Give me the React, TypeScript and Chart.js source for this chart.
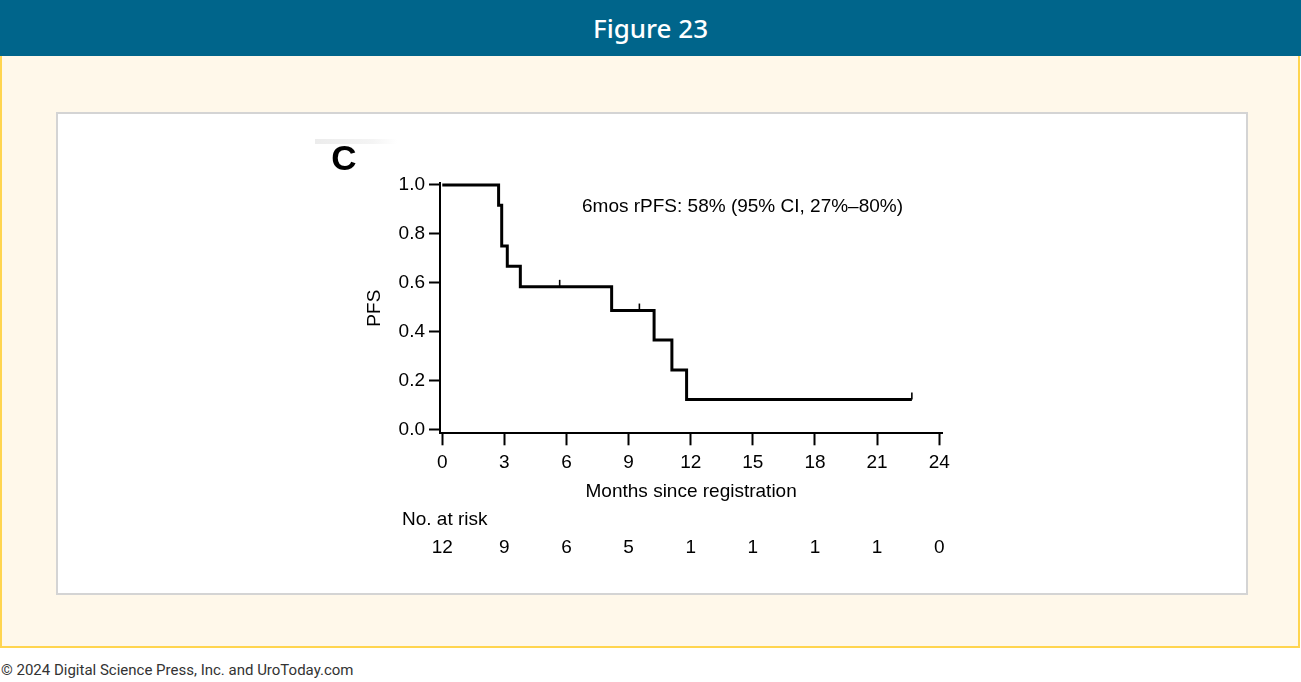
import { useEffect, useRef } from "react";
import { Chart, registerables } from "chart.js";

Chart.register(...registerables);

// Kaplan–Meier estimate of progression-free survival
const EVENT_MONTHS = [0, 2.72, 2.87, 3.14, 3.77, 8.18, 10.23, 11.09, 11.8, 22.68];
const PFS_VALUES = [1.0, 0.917, 0.75, 0.667, 0.583, 0.486, 0.365, 0.243, 0.122, 0.122];

// Censored observations
const CENSOR_MONTHS = [5.67, 9.52, 22.68];
const CENSOR_PFS = [0.583, 0.486, 0.122];

// Axis ticks and the number-at-risk table
const MONTH_TICKS = [0, 3, 6, 9, 12, 15, 18, 21, 24];
const PFS_TICKS = [0, 0.2, 0.4, 0.6, 0.8, 1.0];
const AT_RISK = [12, 9, 6, 5, 1, 1, 1, 1, 0];

const FIGURE_TITLE = "Figure 23";
const PANEL_LETTER = "C";
const RATE_NOTE = "6mos rPFS: 58% (95% CI, 27%–80%)";
const X_TITLE = "Months since registration";
const Y_TITLE = "PFS";
const RISK_TITLE = "No. at risk";
const FOOTER = "© 2024 Digital Science Press, Inc. and UroToday.com";

const FONT = '"Liberation Sans", Arial, Helvetica, sans-serif';

const kmOverlay = {
  id: "kmOverlay",
  afterDatasetsDraw(chart: any) {
    const { ctx, chartArea, scales } = chart;
    const x = scales.x;
    const y = scales.y;
    ctx.save();

    // censor marks rising from the curve
    ctx.strokeStyle = "#000";
    ctx.lineWidth = 1.6;
    CENSOR_MONTHS.forEach((m, i) => {
      const px = x.getPixelForValue(m);
      const py = y.getPixelForValue(CENSOR_PFS[i]);
      ctx.beginPath();
      ctx.moveTo(px, py);
      ctx.lineTo(px, py - 7);
      ctx.stroke();
    });

    ctx.fillStyle = "#000";
    ctx.textBaseline = "middle";
    ctx.font = `19px ${FONT}`;
    ctx.textAlign = "left";
    ctx.fillText(RATE_NOTE, chartArea.left + 142, chartArea.top + 24);
    ctx.fillText(RISK_TITLE, chartArea.left - 38, chartArea.bottom + 86);

    ctx.textAlign = "center";
    MONTH_TICKS.forEach((m, i) => {
      ctx.fillText(String(AT_RISK[i]), x.getPixelForValue(m), chartArea.bottom + 114);
    });

    ctx.font = `bold 35px ${FONT}`;
    ctx.fillText(PANEL_LETTER, chartArea.left - 96, chartArea.top - 23);
    ctx.restore();
  },
};

function KaplanMeierChart() {
  const canvasRef = useRef<HTMLCanvasElement | null>(null);

  useEffect(() => {
    const canvas = canvasRef.current;
    if (!canvas) return;
    const chart = new Chart(canvas, {
      type: "line",
      data: {
        datasets: [
          {
            data: EVENT_MONTHS.map((m, i) => ({ x: m, y: PFS_VALUES[i] })),
            stepped: "before",
            borderColor: "#000",
            borderWidth: 3,
            borderJoinStyle: "miter",
            borderCapStyle: "butt",
            pointRadius: 0,
            fill: false,
          },
        ],
      },
      options: {
        responsive: false,
        animation: false,
        events: [],
        layout: { padding: { left: 363, top: 183, right: 358.7, bottom: 178.7 } },
        plugins: {
          legend: { display: false },
          tooltip: { enabled: false },
        },
        scales: {
          x: {
            type: "linear",
            min: -0.11,
            max: 24.15,
            afterBuildTicks: (s: any) => {
              s.ticks = MONTH_TICKS.map((v) => ({ value: v }));
            },
            afterFit: (s: any) => {
              s.height = 70;
            },
            grid: {
              display: true,
              drawOnChartArea: false,
              drawTicks: true,
              tickLength: 12,
              tickWidth: 2,
              tickColor: "#000",
            },
            border: { display: true, color: "#000", width: 2 },
            ticks: {
              color: "#000",
              font: { size: 19, family: FONT },
              padding: 6,
              maxRotation: 0,
              autoSkip: false,
              callback: (v: any) => String(v),
            },
            title: {
              display: true,
              text: X_TITLE,
              color: "#000",
              font: { size: 19, family: FONT },
              padding: { top: 2, bottom: 0 },
            },
          },
          y: {
            type: "linear",
            min: -0.0164,
            max: 1.008,
            afterBuildTicks: (s: any) => {
              s.ticks = PFS_TICKS.map((v) => ({ value: v }));
            },
            afterFit: (s: any) => {
              s.width = 77;
            },
            grid: {
              display: true,
              drawOnChartArea: false,
              drawTicks: true,
              tickLength: 11,
              tickWidth: 2,
              tickColor: "#000",
            },
            border: { display: true, color: "#000", width: 2 },
            ticks: {
              color: "#000",
              font: { size: 19, family: FONT },
              padding: 4,
              callback: (v: any) => Number(v).toFixed(1),
            },
            title: {
              display: true,
              text: Y_TITLE,
              color: "#000",
              font: { size: 19, family: FONT },
              padding: { top: 0, bottom: 0 },
            },
          },
        },
      },
      plugins: [kmOverlay],
    } as any);
    return () => chart.destroy();
  }, []);

  return (
    <canvas
      ref={canvasRef}
      width={1301}
      height={682}
      style={{ position: "absolute", left: 0, top: 0, width: 1301, height: 682, zIndex: 2 }}
    />
  );
}

export default function App() {
  return (
    <div
      style={{
        position: "absolute",
        left: 0,
        top: 0,
        width: 1301,
        height: 682,
        overflow: "hidden",
        background: "#fff",
      }}
    >
      <div
        style={{
          position: "absolute",
          left: 0,
          top: 0,
          width: 1301,
          height: 56,
          background: "#00658B",
          color: "#fff",
          textAlign: "center",
          lineHeight: "56px",
          fontFamily: '"Noto Sans", sans-serif',
          fontWeight: 500,
          fontSize: 26,
        }}
      >
        {FIGURE_TITLE}
      </div>
      <div
        style={{
          position: "absolute",
          left: 0,
          top: 56,
          width: 1300,
          height: 592,
          boxSizing: "border-box",
          background: "#FFF8EA",
          border: "2px solid #FFD54F",
          borderTop: "none",
        }}
      />
      <div
        style={{
          position: "absolute",
          left: 56,
          top: 112,
          width: 1192,
          height: 483,
          boxSizing: "border-box",
          background: "#fff",
          border: "2px solid #D4D4D4",
        }}
      />
      <div
        style={{
          position: "absolute",
          left: 315,
          top: 139,
          width: 82,
          height: 5,
          background: "linear-gradient(to right, #ececec, #f4f4f4 70%, #ffffff)",
        }}
      />
      <div
        style={{
          position: "absolute",
          left: 1,
          top: 661,
          fontFamily: "Roboto, sans-serif",
          fontSize: 15,
          color: "#333",
          whiteSpace: "nowrap",
        }}
      >
        {FOOTER}
      </div>
      <KaplanMeierChart />
    </div>
  );
}
